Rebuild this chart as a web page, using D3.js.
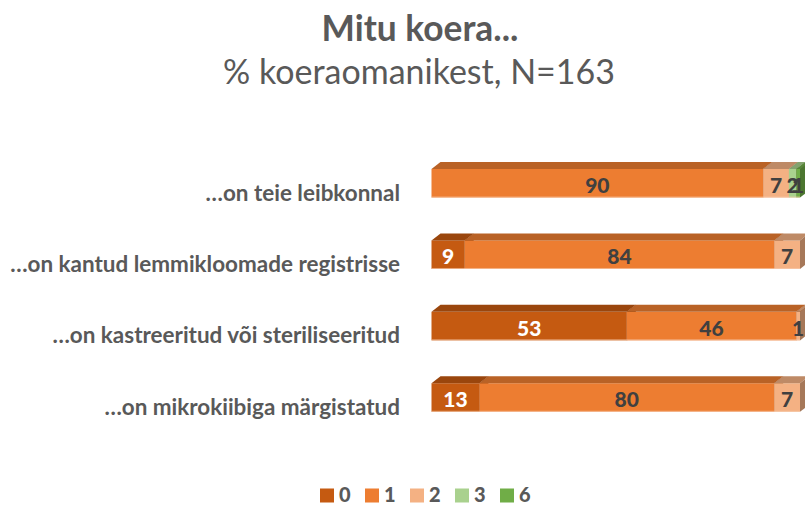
<!DOCTYPE html>
<html>
<head>
<meta charset="utf-8">
<script src="https://cdn.jsdelivr.net/npm/d3@7"></script>
<style>
  html, body { margin: 0; padding: 0; background: #fff; }
  svg { display: block; }
</style>
</head>
<body>
<svg id="chart" width="805" height="505"></svg>
<script>
const categories = [
  "…on teie leibkonnal",
  "…on kantud lemmikloomade registrisse",
  "…on kastreeritud või steriliseeritud",
  "…on mikrokiibiga märgistatud"
];
const seriesNames = ["0", "1", "2", "3", "6"];
const values0 = [0, 9, 53, 13];
const values1 = [90, 84, 46, 80];
const values2 = [7, 7, 1, 7];
const values3 = [2, 0, 0, 0];
const values6 = [1, 0, 0, 0];
const titleText = "Mitu koera...";
const subtitleText = "% koeraomanikest, N=163";

const colors = ["#C55A11", "#ED7D31", "#F4B183", "#A9D18E", "#70AD47"];
const labelColors = ["#FFFFFF", "#404040", "#404040", "#404040", "#404040"];

const seriesValues = [values0, values1, values2, values3, values6];
const table = categories.map((c, i) => {
  const row = { category: c };
  seriesNames.forEach((s, j) => row[s] = seriesValues[j][i]);
  return row;
});

const svg = d3.select("#chart");
const FONT = "Lato, 'Open Sans', sans-serif";
const GREY = "#595959";

const x = d3.scaleLinear().domain([0, 100]).range([431.5, 800]);
const y = d3.scaleBand().domain(categories).range([169, 411.8]).paddingInner(0.6).paddingOuter(0);
const color = d3.scaleOrdinal().domain(seriesNames).range(colors);
const labelColor = d3.scaleOrdinal().domain(seriesNames).range(labelColors);

const DX = 9, DY = 7;
const stack = d3.stack().keys(seriesNames);
const stacked = stack(table);

function fitWidth(sel, target) {
  const node = sel.node();
  const fs = parseFloat(sel.attr("font-size"));
  const w = node.getComputedTextLength();
  sel.attr("font-size", fs * target / w);
  return fs * target / w;
}

// Title
const title = svg.append("text")
  .attr("x", 420).attr("y", 41)
  .attr("text-anchor", "middle")
  .attr("font-family", FONT).attr("font-weight", "bold")
  .attr("font-size", 32).attr("fill", GREY)
  .text(titleText);
fitWidth(title, 197);

const subtitle = svg.append("text")
  .attr("x", 419).attr("y", 84)
  .attr("text-anchor", "middle")
  .attr("font-family", FONT).attr("font-weight", "normal")
  .attr("font-size", 32).attr("fill", GREY)
  .text(subtitleText);
fitWidth(subtitle, 392);

// Bars
const g = svg.append("g");
const darkTop = c => d3.interpolateRgb(c, "#000")(0.22);
const darkSide = c => d3.interpolateRgb(c, "#000")(0.32);

categories.forEach((cat, i) => {
  const top = y(cat), h = y.bandwidth();
  stacked.forEach(layer => {
    const d = layer[i];
    const v = d[1] - d[0];
    if (v <= 0) return;
    const x0 = x(d[0]), x1 = x(d[1]);
    const c = color(layer.key);
    g.append("rect").attr("x", x0).attr("y", top).attr("width", x1 - x0).attr("height", h).attr("fill", c);
    g.append("path")
      .attr("d", `M${x0},${top}L${x0 + DX},${top - DY}L${x1 + DX},${top - DY}L${x1},${top}Z`)
      .attr("fill", darkTop(c));
    g.append("path")
      .attr("d", `M${x1},${top}L${x1 + DX},${top - DY}L${x1 + DX},${top + h - DY}L${x1},${top + h}Z`)
      .attr("fill", darkSide(c));
  });
  const total = d3.sum(seriesValues, s => s[i]);
  g.append("line")
    .attr("x1", x(0)).attr("x2", x(total))
    .attr("y1", top + h - 0.5).attr("y2", top + h - 0.5)
    .attr("stroke", "#F8CBAD").attr("stroke-width", 1).attr("opacity", 0.7);
});

// Value labels
const labels = svg.append("g");
categories.forEach((cat, i) => {
  const mid = y(cat) + y.bandwidth() / 2;
  stacked.forEach(layer => {
    const d = layer[i];
    const v = d[1] - d[0];
    if (v <= 0) return;
    labels.append("text")
      .attr("x", x((d[0] + d[1]) / 2))
      .attr("y", mid + 1)
      .attr("dominant-baseline", "central")
      .attr("text-anchor", "middle")
      .attr("font-family", FONT).attr("font-weight", "900")
      .attr("font-size", 21)
      .attr("fill", labelColor(layer.key))
      .text(v);
  });
});

// Category labels
const catG = svg.append("g");
const catTexts = catG.selectAll("text").data(categories).join("text")
  .attr("x", 400)
  .attr("y", d => y(d) + y.bandwidth() + 3)
  .attr("text-anchor", "end")
  .attr("font-family", FONT).attr("font-weight", "bold")
  .attr("font-size", 22).attr("fill", GREY)
  .text(d => d);
const longest = catTexts.filter((d, i) => i === 1);
const fs = fitWidth(longest, 390);
catTexts.attr("font-size", fs);

// Legend
const legend = svg.append("g");
const lx = d3.scalePoint().domain(seriesNames).range([320, 500]);
seriesNames.forEach(s => {
  legend.append("rect")
    .attr("x", lx(s)).attr("y", 488.5).attr("width", 14).attr("height", 14)
    .attr("fill", color(s));
  legend.append("text")
    .attr("x", lx(s) + 19).attr("y", 502)
    .attr("font-family", FONT).attr("font-weight", "900")
    .attr("font-size", 20).attr("fill", GREY)
    .text(s);
});
</script>
</body>
</html>
